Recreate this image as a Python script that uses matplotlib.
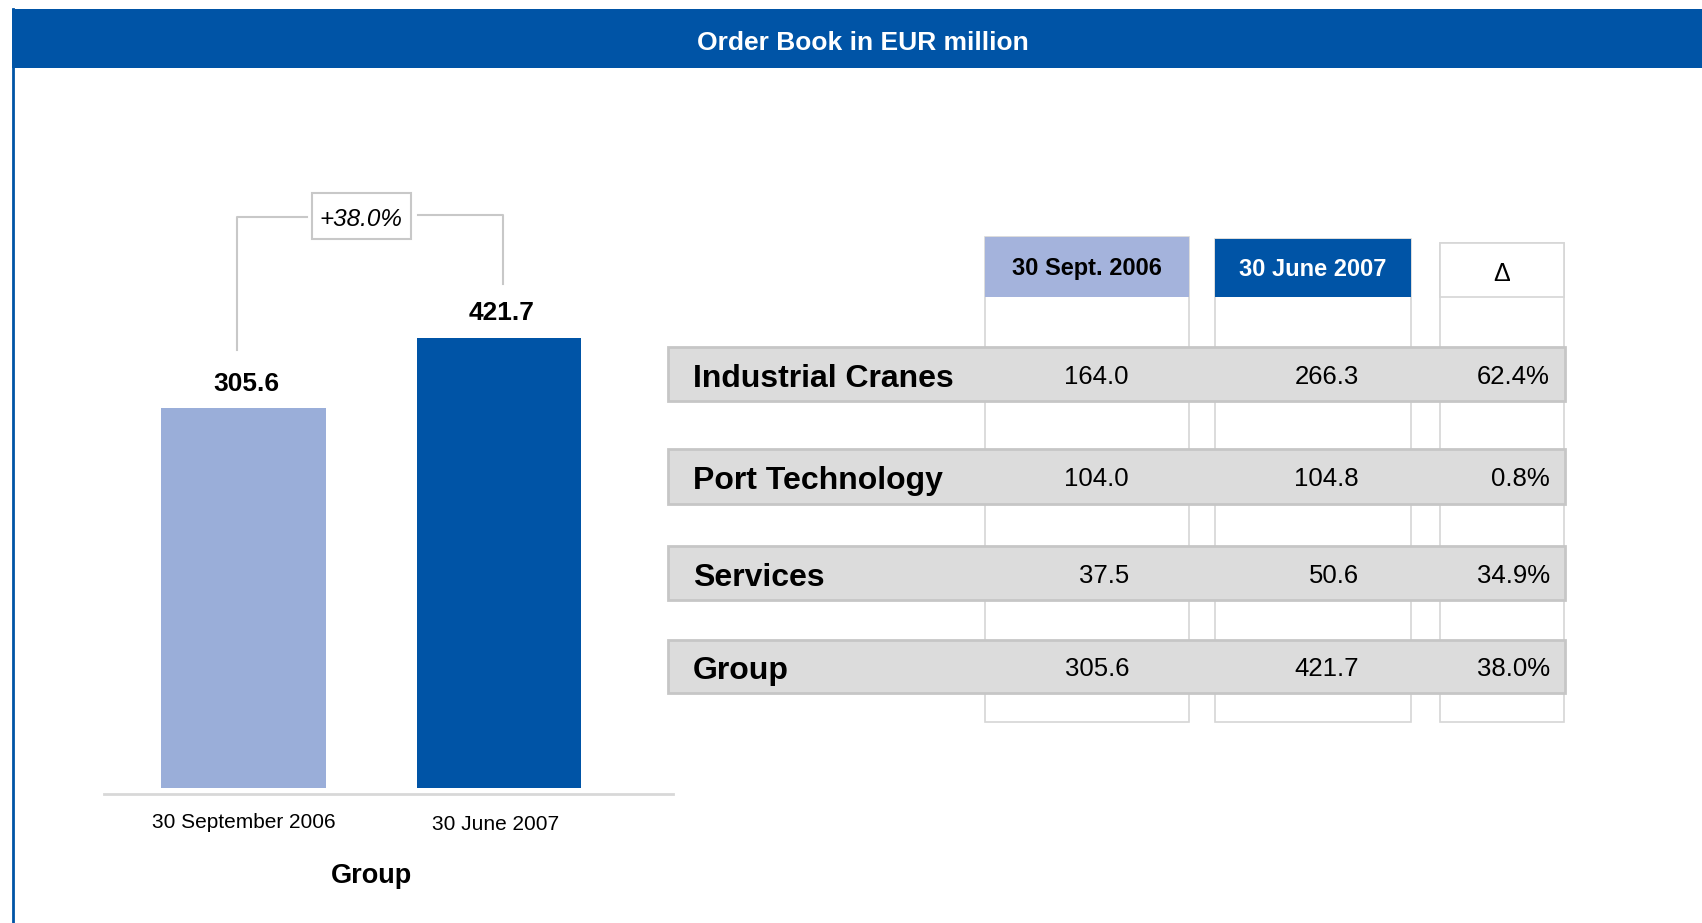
import matplotlib
matplotlib.use("Agg")
import matplotlib.pyplot as plt
from matplotlib.patches import Rectangle

plt.rcParams['font.family'] = ['Liberation Sans', 'DejaVu Sans']

# ---------------- data ----------------
title = "Order Book in EUR million"
bar_labels = ["30 September 2006", "30 June 2007"]
bar_values = [305.6, 421.7]
bar_value_text = ["305.6", "421.7"]
change_text = "+38.0%"
group_label = "Group"

col_headers = ["30 Sept. 2006", "30 June 2007", "\u0394"]
row_labels = ["Industrial Cranes", "Port Technology", "Services", "Group"]
sept_2006 = [164.0, 104.0, 37.5, 305.6]
june_2007 = [266.3, 104.8, 50.6, 421.7]
delta_pct = [62.4, 0.8, 34.9, 38.0]

# ---------------- style ----------------
BLUE = "#0054a6"
LIGHT = "#9aaed9"
HEAD_LIGHT = "#a4b3dc"
GRAY_BAND = "#dcdcdc"
GRAY_EDGE = "#c6c6c6"
LINE = "#c8c8c8"

W, H = 1702, 923
fig = plt.figure(figsize=(W / 100, H / 100), dpi=100)
fig.patch.set_facecolor("white")

# overlay axes in pixel coordinates
deco = fig.add_axes([0, 0, 1, 1])
deco.set_xlim(0, W)
deco.set_ylim(H, 0)
deco.axis("off")

# header band and left border
deco.add_patch(Rectangle((12, 9), W - 12, 59, facecolor=BLUE, edgecolor="none", zorder=1))
deco.plot([13, 13], [9, H], color=BLUE, lw=2, zorder=1)
deco.text(863, 43, title, color="white", fontsize=19, fontweight="bold",
          ha="center", va="center", zorder=2)

# ---------------- bar chart ----------------
px_per_unit = 0.603
base_val = bar_values[0] - (788 - 408) / px_per_unit
ax_bottom_px, ax_top_px = 788, 150
x0_px, x1_px = 243.5, 499
span = x1_px - x0_px
left_px = x0_px - 0.9 * span
right_px = x1_px + 0.9 * span
bar_ax = fig.add_axes([left_px / W, 1 - ax_bottom_px / H,
                       (right_px - left_px) / W, (ax_bottom_px - ax_top_px) / H])
bar_ax.set_xlim(-0.9, 1.9)
bar_ax.set_ylim(base_val, base_val + (ax_bottom_px - ax_top_px) / px_per_unit)
bar_ax.axis("off")
bar_ax.patch.set_alpha(0)
xs = list(range(len(bar_values)))
heights = [v - base_val for v in bar_values]
bars = bar_ax.bar(xs, heights, bottom=base_val, width=0.645,
                  color=[LIGHT, BLUE], edgecolor="none", zorder=2)
for x, v, t in zip(xs, bar_values, bar_value_text):
    bar_ax.annotate(t, (x, v), xytext=(2, 9), textcoords="offset points",
                    ha="center", va="bottom", fontsize=19, fontweight="bold")

# baseline and category labels
deco.plot([104, 673], [794, 794], color="#d8d8d8", lw=2, zorder=1)
deco.text(244, 823, bar_labels[0], fontsize=15, ha="center", va="center")
deco.text(496, 824, bar_labels[1], fontsize=15, ha="center", va="center")
deco.text(372, 876, group_label, fontsize=19.5, fontweight="bold", ha="center", va="center")

# growth bracket
deco.plot([237, 237, 307], [350, 217, 217], color=LINE, lw=1.5, zorder=1)
deco.plot([418, 503, 503], [215, 215, 284], color=LINE, lw=1.5, zorder=1)
deco.add_patch(Rectangle((312, 193), 99, 46, facecolor="white", edgecolor=LINE, lw=1.5, zorder=2))
deco.text(361, 219, change_text, fontsize=17.5, fontstyle="italic", ha="center", va="center", zorder=3)

# ---------------- table ----------------
col_left = [985, 1215, 1440]
col_right = [1189, 1411, 1564]
col_top = [237, 239, 243]
col_bottom = 722
head_bottom = 297
head_fill = [HEAD_LIGHT, BLUE, "white"]
head_color = ["black", "white", "black"]
for l, r, t, f, c, txt in zip(col_left, col_right, col_top, head_fill, head_color, col_headers):
    deco.add_patch(Rectangle((l, t), r - l, col_bottom - t, facecolor="white",
                             edgecolor="#d6d6d6", lw=1.2, zorder=1))
    deco.add_patch(Rectangle((l, t), r - l, head_bottom - t, facecolor=f,
                             edgecolor=("#d6d6d6" if f == "white" else "none"), lw=1.2, zorder=2))
    deco.text((l + r) / 2, (t + head_bottom) / 2 + (4 if txt == "\u0394" else 2), txt,
              color=c, fontsize=17 if txt != "\u0394" else 18,
              fontweight="bold" if txt != "\u0394" else "normal",
              ha="center", va="center", zorder=3)

row_top = [347, 449, 546, 640]
row_bottom = [401, 504, 600, 693]
band_left, band_right = 668, 1565
val_right = [1129, 1359, 1550]
for i, lab in enumerate(row_labels):
    t, b = row_top[i], row_bottom[i]
    deco.add_patch(Rectangle((band_left, t), band_right - band_left, b - t,
                             facecolor=GRAY_BAND, edgecolor=GRAY_EDGE, lw=2, zorder=4))
    yc = (t + b) / 2 + 5
    deco.text(693, yc, lab, fontsize=23, fontweight="bold", ha="left", va="center", zorder=5)
    vals = [f"{sept_2006[i]:.1f}", f"{june_2007[i]:.1f}", f"{delta_pct[i]:.1f}%"]
    for xr, v in zip(val_right, vals):
        deco.text(xr, yc - 2, v, fontsize=18.5, ha="right", va="center", zorder=5)

fig.savefig("out.png", dpi=100, facecolor="white")
